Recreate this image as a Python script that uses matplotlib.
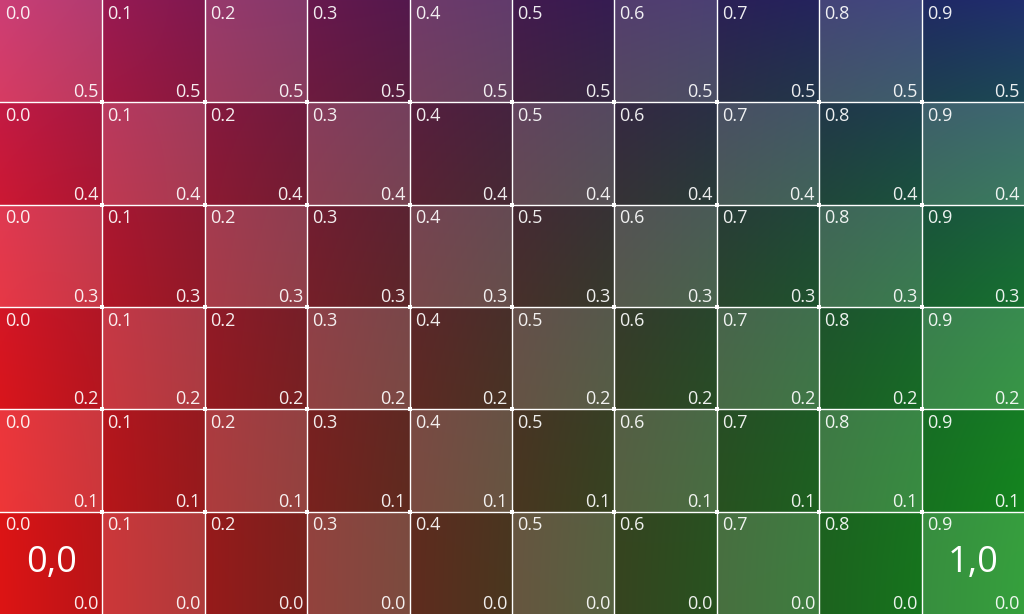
import numpy as np
import matplotlib.pyplot as plt

plt.rcParams['font.family'] = ['Open Sans', 'DejaVu Sans']

# grid values (cell labels)
x_vals = [0.0, 0.1, 0.2, 0.3, 0.4, 0.5, 0.6, 0.7, 0.8, 0.9]
y_vals = [0.0, 0.1, 0.2, 0.3, 0.4, 0.5]
corner_labels = {'0,0': (0, 0), '1,0': (9, 0)}

# corner colours of the gradient field
c_bl = np.array([240, 22, 22]) / 255
c_br = np.array([22, 147, 30]) / 255
c_tl = np.array([198, 32, 98]) / 255
c_tr = np.array([35, 50, 120]) / 255
c_mid = np.array([20, 5, 45]) / 255

step_x = 0.1
step_y = 0.1
y_top = y_vals[-1] + step_y


def field(u, v):
    # horizontal blend with a dark middle, then vertical blend
    wl = (1 - u) ** 1.9
    wr = u ** 1.5
    wm = (1 - wl - wr)[..., None]
    wl = wl[..., None]
    wr = wr[..., None]
    bottom = wl * c_bl + wr * c_br + wm * c_mid
    top = wl * c_tl + wr * c_tr + wm * c_mid
    wv = (v ** 2)[..., None]
    return bottom * (1 - wv) + top * wv


fig = plt.figure(figsize=(10.24, 6.14), dpi=100)
ax = fig.add_axes([0, 0, 1, 1])

for i, x in enumerate(x_vals):
    for j, y in enumerate(y_vals):
        u = np.linspace(x, x + step_x, 60)
        v = np.linspace(y, y + step_y, 60) / y_top
        U, V = np.meshgrid(u, v)
        img = field(U, V)
        if (i + j) % 2 == 1:
            img = img * 0.85 + 0.15 * 0.92
        else:
            img = img * 0.92
        img = np.clip(img, 0, 1)
        ax.imshow(img, origin='lower', extent=[x, x + step_x, y, y + step_y],
                  interpolation='bilinear', aspect='auto')
        ax.text(x + 0.005, y + step_y - 0.0045, f'{x:.1f}', color='white',
                alpha=0.92, fontsize=13, ha='left', va='top')
        ax.text(x + step_x - 0.004, y + 0.005, f'{y:.1f}', color='white',
                alpha=0.92, fontsize=13, ha='right', va='baseline')

for label, (i, j) in corner_labels.items():
    ax.text(x_vals[i] + step_x / 2, y_vals[j] + step_y / 2, label,
            color='white', fontsize=26, ha='center', va='center')

for x in x_vals[1:]:
    ax.axvline(x, color='white', lw=1.0)
for y in y_vals[1:]:
    ax.axhline(y, color='white', lw=1.0)

gx, gy = np.meshgrid(x_vals[1:], y_vals[1:])
ax.scatter(gx.ravel(), gy.ravel(), s=5, marker='s', color='white', lw=0, zorder=3)

ax.set_xlim(0, 1)
ax.set_ylim(0, y_top)
ax.axis('off')

plt.savefig('out.png', dpi=100)
